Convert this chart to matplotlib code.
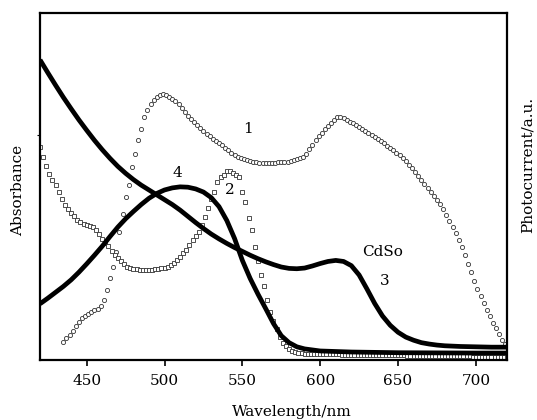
import numpy as np
import matplotlib
matplotlib.use('Agg')
import matplotlib.pyplot as plt

plt.rcParams['font.family'] = 'DejaVu Serif'

# curve 1: photocurrent (open circles), 2 nm steps from 435 nm
wl1 = np.arange(435, 720, 2)
pc1 = [0.052, 0.062, 0.073, 0.085, 0.098, 0.110, 0.122, 0.128, 0.133, 0.137,
       0.143, 0.148, 0.156, 0.172, 0.203, 0.236, 0.268, 0.310, 0.370, 0.420,
       0.470, 0.505, 0.555, 0.595, 0.635, 0.667, 0.700, 0.720, 0.738, 0.750,
       0.758, 0.765, 0.767, 0.765, 0.759, 0.752, 0.745, 0.737, 0.727, 0.714,
       0.703, 0.694, 0.686, 0.676, 0.668, 0.660, 0.652, 0.645, 0.638, 0.632,
       0.626, 0.620, 0.612, 0.604, 0.597, 0.590, 0.585, 0.581, 0.578, 0.575,
       0.573, 0.571, 0.570, 0.569, 0.569, 0.569, 0.569, 0.569, 0.569, 0.570,
       0.570, 0.571, 0.572, 0.574, 0.576, 0.578, 0.581, 0.586, 0.595, 0.607,
       0.620, 0.633, 0.645, 0.655, 0.665, 0.675, 0.684, 0.692, 0.700, 0.699,
       0.696, 0.692, 0.687, 0.682, 0.677, 0.671, 0.665, 0.659, 0.653, 0.648,
       0.643, 0.638, 0.632, 0.625, 0.618, 0.611, 0.604, 0.597, 0.590, 0.582,
       0.573, 0.563, 0.553, 0.542, 0.531, 0.520, 0.508, 0.496, 0.485, 0.474,
       0.462, 0.449, 0.435, 0.419, 0.402, 0.384, 0.366, 0.347, 0.325, 0.302,
       0.278, 0.253, 0.228, 0.204, 0.183, 0.163, 0.144, 0.126, 0.108, 0.091,
       0.074, 0.058, 0.046]

# curve 2: photocurrent (open squares), 2 nm steps from 420 nm
wl2 = np.arange(420, 721, 2)
pc2 = [0.615, 0.585, 0.560, 0.535, 0.520, 0.505, 0.483, 0.465, 0.448, 0.435,
       0.425, 0.414, 0.404, 0.397, 0.392, 0.389, 0.386, 0.382, 0.374, 0.362,
       0.350, 0.338, 0.328, 0.315, 0.303, 0.293, 0.285, 0.276, 0.269, 0.265,
       0.263, 0.261, 0.260, 0.259, 0.259, 0.259, 0.260, 0.261, 0.263, 0.265,
       0.266, 0.268, 0.273, 0.280, 0.287, 0.297, 0.307, 0.318, 0.331, 0.345,
       0.357, 0.368, 0.390, 0.412, 0.437, 0.465, 0.485, 0.512, 0.527, 0.534,
       0.544, 0.545, 0.540, 0.533, 0.526, 0.485, 0.455, 0.410, 0.375, 0.325,
       0.285, 0.245, 0.212, 0.172, 0.138, 0.112, 0.088, 0.066, 0.050, 0.040,
       0.032, 0.026, 0.022, 0.020, 0.019, 0.018, 0.018, 0.018, 0.017, 0.017,
       0.017, 0.017, 0.016, 0.016, 0.016, 0.016, 0.016, 0.015, 0.015, 0.015,
       0.015, 0.015, 0.015, 0.014, 0.014, 0.014, 0.014, 0.014, 0.014, 0.014,
       0.013, 0.013, 0.013, 0.013, 0.013, 0.013, 0.013, 0.013, 0.012, 0.012,
       0.012, 0.012, 0.012, 0.012, 0.012, 0.012, 0.012, 0.012, 0.011, 0.011,
       0.011, 0.011, 0.011, 0.011, 0.011, 0.011, 0.011, 0.011, 0.011, 0.010,
       0.010, 0.010, 0.010, 0.010, 0.010, 0.010, 0.010, 0.010, 0.010, 0.010,
       0.010]

# curve 3: CdSe absorbance (thick line)
wl3 = [420, 425, 430, 435, 440, 445, 450, 455, 460, 465, 470, 475, 480, 485,
       490, 495, 500, 505, 510, 515, 520, 525, 530, 535, 540, 545, 550, 555,
       560, 565, 570, 575, 580, 585, 590, 595, 600, 605, 610, 615, 620, 625,
       630, 635, 640, 645, 650, 655, 660, 665, 670, 675, 680, 690, 700, 710, 720]
ab3 = [0.865, 0.828, 0.792, 0.757, 0.724, 0.692, 0.662, 0.633, 0.606, 0.581,
       0.558, 0.538, 0.520, 0.504, 0.490, 0.476, 0.462, 0.448, 0.432, 0.414,
       0.396, 0.379, 0.363, 0.349, 0.336, 0.324, 0.313, 0.302, 0.292, 0.283,
       0.275, 0.268, 0.264, 0.263, 0.265, 0.271, 0.278, 0.284, 0.287, 0.284,
       0.272, 0.245, 0.205, 0.163, 0.127, 0.100, 0.080, 0.066, 0.057, 0.050,
       0.046, 0.043, 0.041, 0.039, 0.038, 0.037, 0.037]

# curve 4: absorbance (thick line)
wl4 = [420, 425, 430, 435, 440, 445, 450, 455, 460, 465, 470, 475, 480, 485,
       490, 495, 500, 505, 510, 515, 520, 525, 530, 535, 540, 545, 550, 555,
       560, 565, 570, 575, 580, 585, 590, 600, 620, 650, 700, 720]
ab4 = [0.162, 0.178, 0.195, 0.212, 0.231, 0.253, 0.277, 0.302, 0.328, 0.356,
       0.383, 0.407, 0.428, 0.448, 0.466, 0.480, 0.490, 0.496, 0.499, 0.498,
       0.493, 0.484, 0.468, 0.442, 0.402, 0.350, 0.287, 0.235, 0.190, 0.148,
       0.105, 0.070, 0.050, 0.038, 0.032, 0.026, 0.023, 0.021, 0.020, 0.020]

xticks = [450, 500, 550, 600, 650, 700]

fig = plt.figure(figsize=(5.37, 4.2), dpi=100)
ax = fig.add_axes([40 / 537, 60 / 420, 467 / 537, 347 / 420])

ax.plot(wl1, pc1, 'o', ms=3.0, mfc='white', mec='#333333', mew=0.6)
ax.plot(wl2, pc2, 's', ms=2.8, mfc='white', mec='#333333', mew=0.6)
ax.plot(wl3, ab3, '-', color='black', lw=3.4, solid_capstyle='butt', solid_joinstyle='round')
ax.plot(wl4, ab4, '-', color='black', lw=3.4, solid_capstyle='butt', solid_joinstyle='round')

ax.set_xlim(420, 720)
ax.set_ylim(0, 1)
ax.set_xticks(xticks)
ax.set_yticks([0.647])
ax.tick_params(axis='x', direction='out', length=4, width=1.2, labelsize=11, pad=6)
ax.tick_params(axis='y', direction='out', length=2, width=0.8, labelleft=False)
for spine in ax.spines.values():
    spine.set_linewidth(1.6)

fs = 11
ax.text(553.5, 0.667, '1', fontsize=fs, ha='center', va='center')
ax.text(542, 0.489, '2', fontsize=fs, ha='center', va='center')
ax.text(641.5, 0.227, '3', fontsize=fs, ha='center', va='center')
ax.text(508.5, 0.54, '4', fontsize=fs, ha='center', va='center')
ax.text(640, 0.31, 'CdSo', fontsize=fs, ha='center', va='center')

fig.text(292 / 537, 1 - 412 / 420, 'Wavelength/nm', fontsize=fs, ha='center', va='center')
fig.text(18 / 537, 1 - 190 / 420, 'Absorbance', fontsize=fs, rotation=90, ha='center', va='center')
fig.text(528 / 537, 1 - 165 / 420, 'Photocurrent/a.u.', fontsize=fs, rotation=90, ha='center', va='center')

plt.savefig('out.png', dpi=100)
